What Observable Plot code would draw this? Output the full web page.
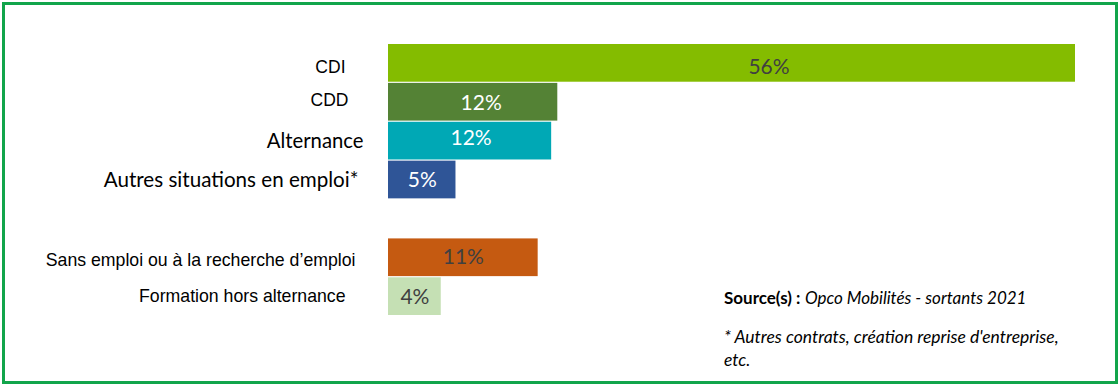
<!DOCTYPE html>
<html><head><meta charset="utf-8">
<script src="https://cdn.jsdelivr.net/npm/d3@7"></script>
<script src="https://cdn.jsdelivr.net/npm/@observablehq/plot@0.6"></script>
<style>
body{margin:0;background:#fff;}
#wrap{position:relative;width:1120px;height:387px;overflow:hidden;background:#fff;}
#chart{position:absolute;left:0;top:0;}
#border{position:absolute;left:2px;top:2px;width:1116px;height:382px;box-sizing:border-box;border:3px solid #12a54b;}
.note{position:absolute;left:724px;font-family:Lato,sans-serif;font-size:17px;color:#000;white-space:nowrap;}
</style></head><body>
<div id="wrap">
  <div id="chart"></div>
  <div id="border"></div>
  <div class="note" style="top:289px;line-height:18px;"><b>Source(s) :</b> <i>Opco Mobilités - sortants 2021</i></div>
  <div class="note" style="top:325px;line-height:23px;font-size:17.5px;"><i>* Autres contrats, création reprise d'entreprise,<br>etc.</i></div>
</div>
<script>
// ---- data ----
const categories = [
  "CDI",
  "CDD",
  "Alternance",
  "Autres situations en emploi*",
  "Sans emploi ou à la recherche d’emploi",
  "Formation hors alternance"
];
const values = [56, 13.8, 13.3, 5.5, 12.2, 4.3];
const valueLabels = ["56%", "12%", "12%", "5%", "11%", "4%"];

// ---- styles (not data) ----
const barColors = ["#84bc00", "#548235", "#00a8b5", "#2f5597", "#c55a11", "#c5e0b4"];
const valueColors = ["#404040", "#ffffff", "#ffffff", "#ffffff", "#404040", "#404040"];
const catStyle = [
  {font: "Liberation Sans, Arial", size: 17.5, dx: -43, dy: 4},
  {font: "Liberation Sans, Arial", size: 17.5, dx: -40, dy: -1.5},
  {font: "Lato", size: 20.3, dx: -25, dy: 0},
  {font: "Lato", size: 20.6, dx: -30, dy: 0},
  {font: "Liberation Sans, Arial", size: 17.7, dx: -33, dy: 2.5},
  {font: "Liberation Sans, Arial", size: 17.7, dx: -43, dy: 0}
];
const valStyle = [
  {dx: 37, dy: 4}, {dx: 8, dy: 1}, {dx: 1, dy: -2.5}, {dx: 0, dy: 0}, {dx: 0, dy: 0}, {dx: 0, dy: 0.5}
];

const GAP = " ";
const yDomain = [...categories.slice(0, 4), GAP, ...categories.slice(4)];
const data = categories.map((c, i) => ({cat: c, value: values[i], label: valueLabels[i]}));

const marks = [
  Plot.barX(data, {x: "value", y: "cat", fill: "cat"})
];
data.forEach((d, i) => {
  const s = catStyle[i];
  marks.push(Plot.text([d], {
    x: 0, y: "cat", text: "cat", textAnchor: "end",
    dx: s.dx, dy: s.dy, fontFamily: s.font, fontSize: s.size, fill: "#000"
  }));
  const v = valStyle[i];
  marks.push(Plot.text([d], {
    x: dd => dd.value / 2, y: "cat", text: "label",
    dx: v.dx, dy: v.dy, fontFamily: "Lato", fontSize: 21, fill: valueColors[i]
  }));
});

const chart = Plot.plot({
  width: 1120,
  height: 387,
  marginLeft: 388,
  marginRight: 45,
  marginTop: 44,
  marginBottom: 72,
  x: {domain: [0, 56], axis: null},
  y: {domain: yDomain, axis: null, paddingInner: 0.03, paddingOuter: 0, round: false},
  color: {domain: categories, range: barColors},
  style: {background: "transparent", overflow: "visible"},
  marks
});
document.getElementById("chart").appendChild(chart);
</script>
</body></html>
